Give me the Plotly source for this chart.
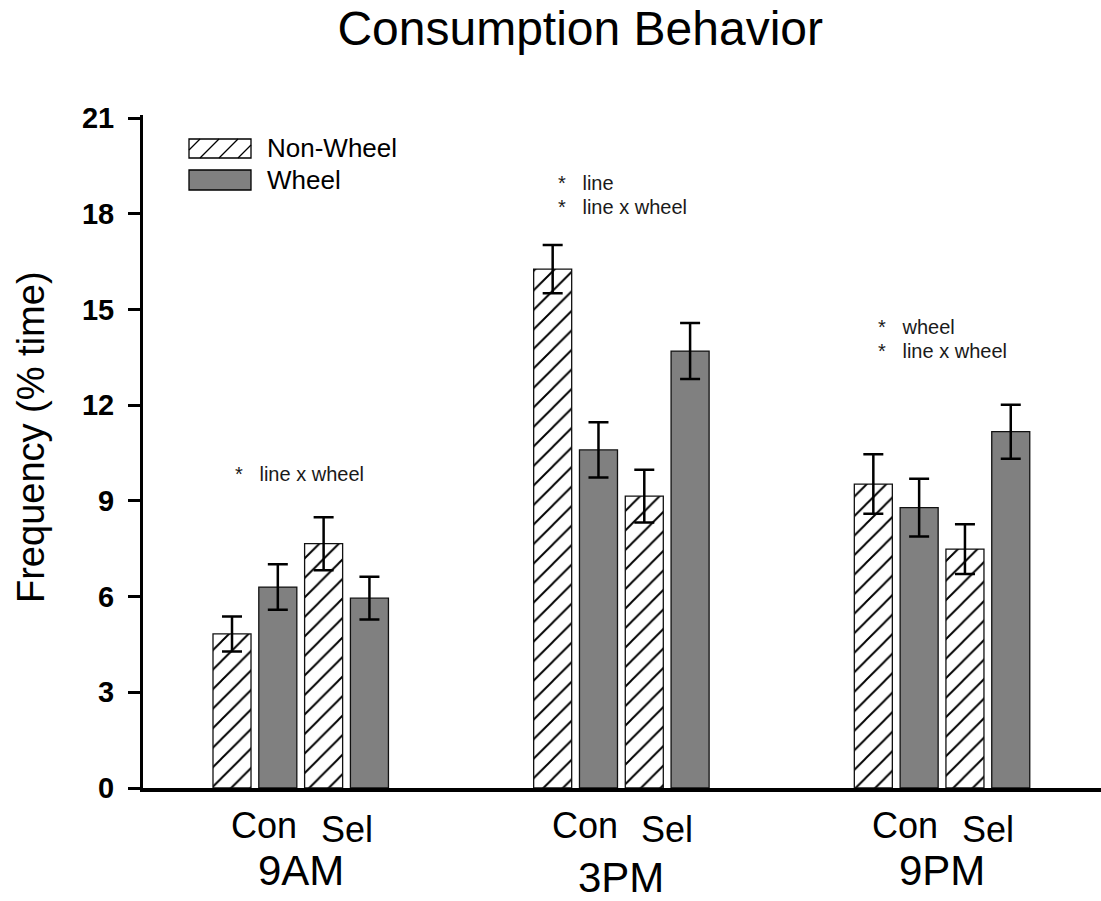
import plotly.graph_objects as go

# ---- data -------------------------------------------------------------
periods = ["9AM", "3PM", "9PM"]
lines_ = ["Con", "Sel"]

nonwheel_con = [4.83, 16.27, 9.53]
nonwheel_con_err = [0.55, 0.755, 0.93]
wheel_con = [6.30, 10.60, 8.79]
wheel_con_err = [0.715, 0.865, 0.905]
nonwheel_sel = [7.66, 9.15, 7.49]
nonwheel_sel_err = [0.83, 0.825, 0.78]
wheel_sel = [5.95, 13.70, 11.17]
wheel_sel_err = [0.67, 0.875, 0.845]

y_ticks = [0, 3, 6, 9, 12, 15, 18, 21]

period_notes = [
    ["line x wheel"],
    ["line", "line x wheel"],
    ["wheel", "line x wheel"],
]

# ---- layout geometry ---------------------------------------------------
W, H = 1101, 901
ML, MR, MT, MB = 143, 0, 115, 113
PW, PH = W - ML - MR, H - MT - MB
GROUP_STEP = 7          # slots between period groups
BAR_W = 0.83
X_RANGE = [-1.943, 18.97]
Y_RANGE = [0, 21.1]
FONT = "Arial, Liberation Sans, sans-serif"


def slot_x(g, slot):
    return GROUP_STEP * g + slot


def px_to_paper(px, py):
    return (px - ML) / PW, (H - MB - py) / PH


nw_x, nw_y, nw_e = [], [], []
w_x, w_y, w_e = [], [], []
for g in range(len(periods)):
    nw_x += [slot_x(g, 0), slot_x(g, 2)]
    nw_y += [nonwheel_con[g], nonwheel_sel[g]]
    nw_e += [nonwheel_con_err[g], nonwheel_sel_err[g]]
    w_x += [slot_x(g, 1), slot_x(g, 3)]
    w_y += [wheel_con[g], wheel_sel[g]]
    w_e += [wheel_con_err[g], wheel_sel_err[g]]

err_style = dict(type="data", visible=True, color="black", thickness=2.5, width=10)

fig = go.Figure()
fig.add_trace(go.Bar(
    name="Non-Wheel", x=nw_x, y=nw_y, width=BAR_W,
    marker=dict(color="white",
                line=dict(color="#111111", width=1.3),
                pattern=dict(shape="/", size=13.8, solidity=0.14,
                             fgcolor="black", bgcolor="white", fgopacity=1)),
    error_y=dict(array=nw_e, **err_style),
    showlegend=False,
))
fig.add_trace(go.Bar(
    name="Wheel", x=w_x, y=w_y, width=BAR_W,
    marker=dict(color="#808080", line=dict(color="#111111", width=1.3)),
    error_y=dict(array=w_e, **err_style),
    showlegend=False,
))

annotations = []
shapes = []

# significance notes above each period
note_pos = [(233, 474), (556, 183), (876, 327)]
for (px, py), notes in zip(note_pos, period_notes):
    for i, txt in enumerate(notes):
        xp, yp = px_to_paper(px, py + 24 * i)
        annotations.append(dict(
            xref="paper", yref="paper", x=xp, y=yp,
            text="*&nbsp;&nbsp;&nbsp;" + txt, showarrow=False,
            xanchor="left", yanchor="middle",
            font=dict(family=FONT, size=20, color="#1a1a1a")))

# category labels under the axis
for g, period in enumerate(periods):
    annotations.append(dict(
        xref="x", yref="paper", x=slot_x(g, 0.5) + 0.2, y=px_to_paper(0, 825)[1],
        text=lines_[0], showarrow=False, xanchor="center", yanchor="middle",
        font=dict(family=FONT, size=36, color="black")))
    annotations.append(dict(
        xref="x", yref="paper", x=slot_x(g, 2.5), y=px_to_paper(0, 829)[1],
        text=lines_[1], showarrow=False, xanchor="center", yanchor="middle",
        font=dict(family=FONT, size=36, color="black")))
    py = 877 if g == 1 else 870
    annotations.append(dict(
        xref="x", yref="paper", x=slot_x(g, 1.5), y=px_to_paper(0, py)[1],
        text=period, showarrow=False, xanchor="center", yanchor="middle",
        font=dict(family=FONT, size=42, color="black")))

# y-axis title
annotations.append(dict(
    xref="paper", yref="paper", x=px_to_paper(31, 0)[0], y=px_to_paper(0, 437)[1],
    text="Frequency (% time)", textangle=-90, showarrow=False,
    xanchor="center", yanchor="middle",
    font=dict(family=FONT, size=38, color="black")))

# legend: swatches drawn as shapes, labels as text
bx0, bx1 = 189, 251
sw1 = (139, 158)
sw2 = (170, 190)
x0p, y0p = px_to_paper(bx0, sw1[1])
x1p, y1p = px_to_paper(bx1, sw1[0])
shapes.append(dict(type="rect", xref="paper", yref="paper",
                   x0=x0p, y0=y0p, x1=x1p, y1=y1p,
                   fillcolor="white", line=dict(color="black", width=1.3)))
hh = sw1[1] - sw1[0]
for xb in [181, 200, 219, 238]:
    xs, ys = xb, sw1[1]
    xe, ye = xb + hh, sw1[0]
    if xs < bx0:
        ys -= bx0 - xs
        xs = bx0
    if xe > bx1:
        ye += xe - bx1
        xe = bx1
    a = px_to_paper(xs, ys)
    b = px_to_paper(xe, ye)
    shapes.append(dict(type="line", xref="paper", yref="paper",
                       x0=a[0], y0=a[1], x1=b[0], y1=b[1],
                       line=dict(color="black", width=1.2)))
x0p, y0p = px_to_paper(bx0, sw2[1])
x1p, y1p = px_to_paper(bx1, sw2[0])
shapes.append(dict(type="rect", xref="paper", yref="paper",
                   x0=x0p, y0=y0p, x1=x1p, y1=y1p,
                   fillcolor="#808080", line=dict(color="black", width=1.3)))
for label, cy in [("Non-Wheel", 148), ("Wheel", 180)]:
    xp, yp = px_to_paper(265, cy)
    annotations.append(dict(
        xref="paper", yref="paper", x=xp, y=yp, text=label, showarrow=False,
        xanchor="left", yanchor="middle",
        font=dict(family=FONT, size=26, color="black")))

fig.update_layout(
    width=W, height=H,
    margin=dict(l=ML, r=MR, t=MT, b=MB, pad=0),
    paper_bgcolor="white", plot_bgcolor="white",
    barmode="overlay",
    title=dict(text="Consumption Behavior", x=0.527, xref="container",
               y=1 - 28 / H, yref="container", xanchor="center", yanchor="middle",
               font=dict(family=FONT, size=48, color="black")),
    xaxis=dict(range=X_RANGE, showgrid=False, zeroline=False,
               showticklabels=False, ticks="", showline=True,
               linecolor="black", linewidth=4, fixedrange=True),
    yaxis=dict(range=Y_RANGE, showgrid=False, zeroline=False,
               tickvals=y_ticks, ticks="outside", ticklen=12, tickwidth=3,
               tickcolor="black", showline=True, linecolor="black", linewidth=3,
               ticklabelstandoff=8,
               tickfont=dict(family=FONT, size=29, color="black", weight="bold")),
    annotations=annotations,
    shapes=shapes,
)

fig.write_html("out.html")
